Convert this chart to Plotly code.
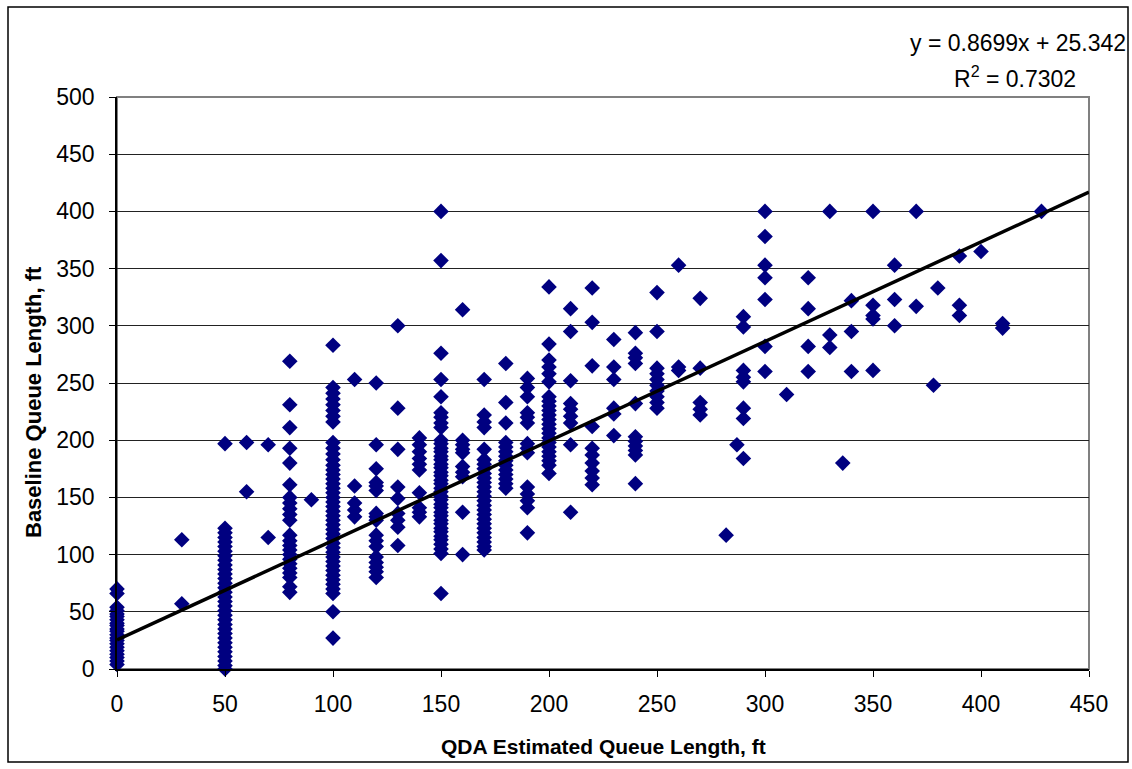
import plotly.graph_objects as go

# ---- data (QDA estimate -> list of baseline values) ----
x_positions = [0, 30, 50, 60, 70, 80, 90, 100, 110, 120, 130, 140, 150, 160, 170, 180,
               190, 200, 210, 220, 230, 240, 250, 260, 270, 282, 287, 290, 300, 310,
               320, 330, 336, 340, 350, 360, 370, 378, 380, 390, 400, 410, 428]

y_at_0 = [70, 66, 54, 51, 48, 46, 43, 40, 38, 35, 33, 30, 27, 25, 22, 19, 16, 13, 10, 7, 4]
y_at_30 = [113, 57]
y_at_50 = [197, 123, 119, 115, 111, 107, 103, 99, 95, 91, 87, 83, 79, 75, 71, 67, 63, 59,
           55, 51, 47, 43, 39, 35, 31, 27, 23, 19, 15, 11, 7, 3, 0]
y_at_60 = [198, 155]
y_at_70 = [196, 115]
y_at_80 = [269, 231, 211, 193, 180, 161, 150, 145, 140, 135, 130, 117, 112, 108, 104, 100,
           96, 92, 88, 84, 80, 72, 67]
y_at_90 = [148]
y_at_100 = [283, 246, 241, 236, 231, 226, 221, 216, 198, 193, 188, 183, 178, 174, 170, 166,
            162, 158, 154, 150, 146, 142, 138, 134, 130, 126, 122, 118, 114, 110, 106, 102,
            98, 94, 90, 86, 82, 78, 74, 70, 66, 50, 27]
y_at_110 = [253, 160, 145, 139, 133]
y_at_120 = [250, 196, 175, 163, 160, 156, 136, 133, 130, 117, 112, 107, 98, 93, 89, 85, 80]
y_at_130 = [300, 228, 192, 159, 149, 136, 130, 124, 108]
y_at_140 = [202, 196, 190, 184, 179, 174, 154, 141, 137, 133]
y_at_150 = [400, 357, 276, 253, 238, 224, 220, 215, 211, 200, 197, 193, 190, 186, 183, 179,
            176, 172, 169, 165, 162, 158, 155, 151, 148, 144, 141, 137, 134, 130, 127, 123,
            120, 116, 113, 109, 105, 101, 66]
y_at_160 = [314, 200, 196, 192, 189, 177, 172, 168, 137, 100]
y_at_170 = [253, 222, 216, 211, 192, 183, 179, 175, 171, 167, 163, 159, 155, 151, 147, 143,
            139, 135, 131, 127, 123, 119, 115, 111, 107, 104]
y_at_180 = [267, 233, 215, 198, 194, 190, 186, 182, 178, 174, 170, 166, 162, 158]
y_at_190 = [254, 246, 238, 224, 220, 215, 197, 193, 189, 159, 153, 147, 141, 119]
y_at_200 = [334, 284, 270, 264, 258, 251, 238, 234, 230, 226, 222, 218, 214, 210, 206, 202,
            198, 194, 190, 186, 182, 178, 171]
y_at_210 = [315, 295, 252, 232, 227, 221, 215, 196, 137]
y_at_220 = [333, 303, 265, 212, 193, 187, 180, 173, 167, 161]
y_at_230 = [288, 264, 253, 228, 223, 204]
y_at_240 = [294, 276, 272, 267, 232, 203, 199, 195, 191, 187, 162]
y_at_250 = [329, 295, 263, 258, 253, 248, 243, 238, 233, 228]
y_at_260 = [353, 264, 261]
y_at_270 = [324, 263, 233, 227, 222]
y_at_282 = [117]
y_at_287 = [196]
y_at_290 = [308, 299, 261, 255, 251, 228, 219, 184]
y_at_300 = [400, 378, 353, 342, 323, 282, 260]
y_at_310 = [240]
y_at_320 = [342, 315, 282, 260]
y_at_330 = [400, 292, 281]
y_at_336 = [180]
y_at_340 = [322, 295, 260]
y_at_350 = [400, 318, 309, 306, 261]
y_at_360 = [353, 323, 300]
y_at_370 = [400, 317]
y_at_378 = [248]
y_at_380 = [333]
y_at_390 = [361, 318, 309]
y_at_400 = [365]
y_at_410 = [302, 298]
y_at_428 = [400]

baseline_columns = [y_at_0, y_at_30, y_at_50, y_at_60, y_at_70, y_at_80, y_at_90, y_at_100,
                    y_at_110, y_at_120, y_at_130, y_at_140, y_at_150, y_at_160, y_at_170,
                    y_at_180, y_at_190, y_at_200, y_at_210, y_at_220, y_at_230, y_at_240,
                    y_at_250, y_at_260, y_at_270, y_at_282, y_at_287, y_at_290, y_at_300,
                    y_at_310, y_at_320, y_at_330, y_at_336, y_at_340, y_at_350, y_at_360,
                    y_at_370, y_at_378, y_at_380, y_at_390, y_at_400, y_at_410, y_at_428]

trend_slope = 0.8699
trend_intercept = 25.342
trend_x = [0, 450]
x_ticks = [0, 50, 100, 150, 200, 250, 300, 350, 400, 450]
y_ticks = [0, 50, 100, 150, 200, 250, 300, 350, 400, 450, 500]

qda = []
baseline = []
for xv, col in zip(x_positions, baseline_columns):
    for yv in col:
        qda.append(xv)
        baseline.append(yv)

FONT = "Liberation Sans, Arial, sans-serif"

fig = go.Figure()
fig.add_trace(go.Scatter(
    x=qda, y=baseline, mode="markers",
    marker=dict(symbol="diamond", size=12, color="#000080", line=dict(width=0)),
    showlegend=False, cliponaxis=False))
fig.add_trace(go.Scatter(
    x=trend_x, y=[trend_slope * v + trend_intercept for v in trend_x], mode="lines",
    line=dict(color="black", width=3.5), showlegend=False))

W, H = 1132, 769
L, R, T, B = 117, 1089, 97, 669
pw, ph = R - L, B - T

def px(xp):
    return (xp - L) / pw

def py(yp):
    return (B - yp) / ph

fig.update_layout(
    width=W, height=H,
    margin=dict(l=L, r=W - R, t=T, b=H - B),
    paper_bgcolor="white", plot_bgcolor="white",
    font=dict(family=FONT, size=23, color="black"),
    xaxis=dict(range=[0, 450], tickvals=x_ticks, showgrid=False, zeroline=False,
               showline=True, linecolor="black", linewidth=1.5, ticks="outside",
               ticklen=6, tickcolor="black", tickfont=dict(size=23),
               ticklabelstandoff=8),
    yaxis=dict(range=[0, 500], tickvals=y_ticks, showgrid=True, gridcolor="#222222",
               gridwidth=1, zeroline=False, showline=True, linecolor="black",
               linewidth=1.5, ticks="outside", ticklen=6, tickcolor="black",
               tickfont=dict(size=23), ticklabelstandoff=10),
    shapes=[
        dict(type="rect", xref="paper", yref="paper", x0=0, x1=1, y0=0, y1=1,
             line=dict(color="#808080", width=2), layer="below"),
        dict(type="rect", xref="paper", yref="paper", x0=px(8), x1=px(1128),
             y0=py(762), y1=py(7), line=dict(color="black", width=1.5), layer="below"),
    ],
    annotations=[
        dict(text="y = 0.8699x + 25.342", xref="paper", yref="paper", x=px(1128),
             y=py(43), xanchor="right", yanchor="middle", showarrow=False,
             font=dict(size=23)),
        dict(text="R<sup>2</sup> = 0.7302", xref="paper", yref="paper", x=px(1078),
             y=py(77), xanchor="right", yanchor="middle", showarrow=False,
             font=dict(size=23)),
        dict(text="<b>QDA Estimated Queue Length, ft</b>", xref="paper", yref="paper",
             x=px(603), y=py(746), xanchor="center", yanchor="middle", showarrow=False,
             font=dict(size=21)),
        dict(text="<b>Baseline Queue Length, ft</b>", xref="paper", yref="paper",
             x=px(33), y=py(402), xanchor="center", yanchor="middle", showarrow=False,
             textangle=-90, font=dict(size=22)),
    ],
)

fig.write_html("out.html", config={"displayModeBar": False},
               post_script="document.body.style.margin='0px';")
